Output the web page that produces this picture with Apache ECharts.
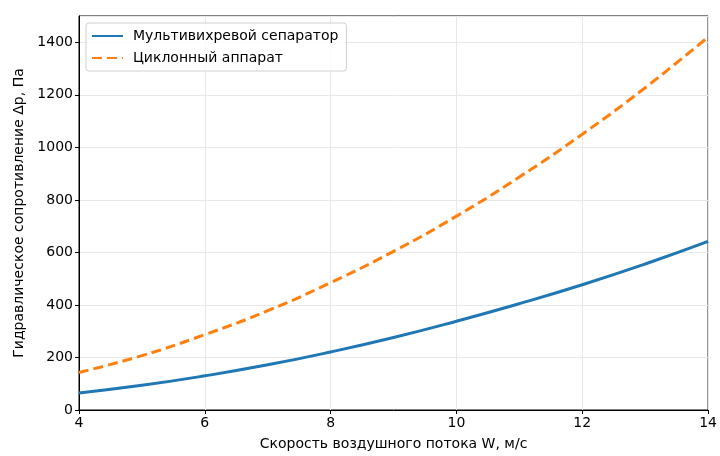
<!DOCTYPE html>
<html>
<head>
<meta charset="utf-8">
<script src="https://cdn.jsdelivr.net/npm/echarts@6/dist/echarts.min.js"></script>
<style>
  html, body { margin: 0; padding: 0; background: #fff; }
  #chart { width: 720px; height: 456px; }
</style>
</head>
<body>
<div id="chart"></div>
<script>
// скорость воздушного потока, м/с
var speeds = [4, 5, 6, 7, 8, 9, 10, 11, 12, 13, 14];
// перепад давления, Па
var multivortex = [65, 94, 130, 172, 221, 276, 338, 405, 477, 556, 642];
var cyclone = [143, 207, 287, 378, 485, 604, 738, 887, 1050, 1227, 1420];

var names = ['Мультивихревой сепаратор', 'Циклонный аппарат'];

function pairs(ys) {
  return speeds.map(function (x, i) { return [x, ys[i]]; });
}

var font = 'DejaVu Sans';
var chart = echarts.init(document.getElementById('chart'));
chart.setOption({
  animation: false,
  textStyle: { fontFamily: font },
  grid: {
    left: 79, right: 10, top: 16, bottom: 43,
    show: true, borderColor: '#000', borderWidth: 1, backgroundColor: '#fff'
  },
  legend: {
    left: 86, top: 23,
    orient: 'vertical',
    itemWidth: 31, itemHeight: 10, itemGap: 8,
    padding: [6, 8, 6, 5],
    borderColor: '#d0d0d0', borderWidth: 1, borderRadius: 3,
    backgroundColor: 'rgba(255,255,255,0.8)',
    itemStyle: { opacity: 0 },
    textStyle: { fontFamily: font, fontSize: 14, color: '#000', padding: [0, 0, 0, 5] },
    data: names
  },
  xAxis: {
    type: 'value', min: 4, max: 14, interval: 2,
    name: 'Скорость воздушного потока W, м/с',
    nameLocation: 'middle', nameGap: 27,
    nameTextStyle: { fontFamily: font, fontSize: 14, color: '#000' },
    axisLine: { lineStyle: { color: '#000' } },
    axisTick: { show: true, length: 4, lineStyle: { color: '#000' } },
    axisLabel: { fontFamily: font, fontSize: 14, color: '#000', margin: 6 },
    splitLine: { show: true, lineStyle: { color: '#e8e8e8', width: 1 } }
  },
  yAxis: {
    type: 'value', min: 0, max: 1500, interval: 200,
    name: 'Гидравлическое сопротивление Δp, Па',
    nameLocation: 'middle', nameGap: 50,
    nameTextStyle: { fontFamily: font, fontSize: 14, color: '#000' },
    axisLine: { show: true, lineStyle: { color: '#000' } },
    axisTick: { show: true, length: 4, lineStyle: { color: '#000' } },
    axisLabel: {
      fontFamily: font, fontSize: 14, color: '#000', margin: 6, showMaxLabel: false,
      formatter: function (v) { return String(v); }
    },
    splitLine: { show: true, lineStyle: { color: '#e8e8e8', width: 1 } }
  },
  series: [
    {
      name: names[0], type: 'line', smooth: true, symbol: 'none',
      data: pairs(multivortex),
      itemStyle: { color: '#1f77b4' },
      lineStyle: { color: '#1f77b4', width: 3 }
    },
    {
      name: names[1], type: 'line', smooth: true, symbol: 'none',
      data: pairs(cyclone),
      itemStyle: { color: '#ff7f0e' },
      lineStyle: { color: '#ff7f0e', width: 3, type: [10, 5] }
    }
  ]
});
</script>
</body>
</html>
